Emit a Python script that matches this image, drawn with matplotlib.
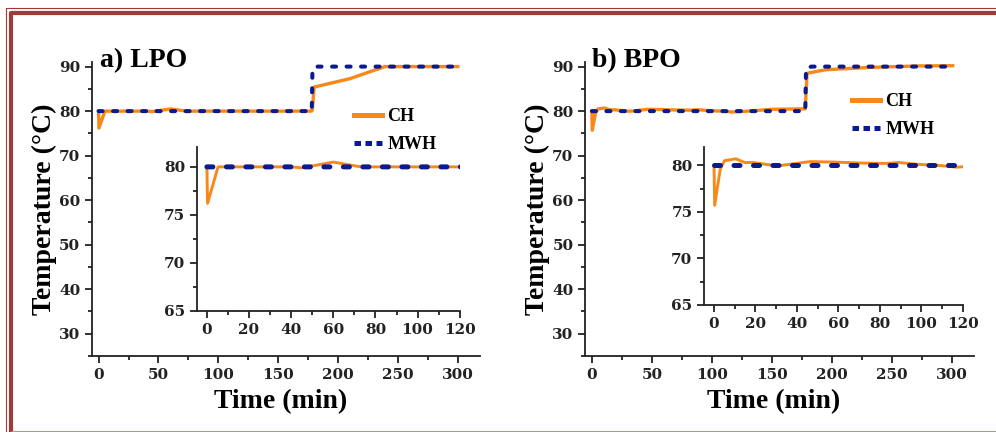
import matplotlib
matplotlib.use('Agg')
import matplotlib.pyplot as plt
from matplotlib.lines import Line2D
from matplotlib.ticker import MultipleLocator

plt.rcParams['font.family'] = ['Liberation Serif', 'DejaVu Serif']
plt.rcParams['font.weight'] = 'bold'
plt.rcParams['axes.labelweight'] = 'bold'

# LPO: conventional heating (CH) and microwave heating (MWH)
lpo_t_ch = [0, 0.3, 5.3, 40, 45, 60, 73, 178, 178.5, 180, 210, 239, 300]
lpo_T_ch = [80, 76.2, 80, 80, 79.9, 80.5, 80, 80, 80.3, 85.4, 87.3, 90, 90]
lpo_t_mwh = [0, 178, 178.6, 183, 300]
lpo_T_mwh = [80, 80, 89.5, 90, 90]

# BPO
bpo_t_ch = [0, 0.3, 3, 5.1, 10.5, 14.8, 19, 28.4, 33, 46.3, 57.5, 70, 83, 89,
            98.6, 108, 117, 130, 150, 172, 178, 179.5, 195, 231, 272, 301]
bpo_T_ch = [80, 75.7, 79.6, 80.5, 80.7, 80.3, 80.3, 80, 80, 80.4, 80.35, 80.25,
            80.2, 80.3, 80.1, 80, 79.8, 80.0, 80.4, 80.5, 80.5, 88.5, 89.3,
            89.8, 90.15, 90.2]
bpo_t_mwh = [0, 178, 178.6, 183, 300]
bpo_T_mwh = [80, 80, 89.6, 90, 90]

CH_COLOR = '#f7891c'
MWH_COLOR = '#0a1a8f'
FRAME_COLOR = '#9e3a3a'
TICK_FONT = dict(family='DejaVu Serif', weight='bold', size=11)

W, H = 996, 432
fig = plt.figure(figsize=(W / 100, H / 100), dpi=100)
fig.patch.set_facecolor('white')


def px_box(left, top, right, bottom):
    return [left / W, 1 - bottom / H, (right - left) / W, (bottom - top) / H]


def style_axes(ax, xmajor, xminor, ymajor, yminor):
    for side in ('top', 'right'):
        ax.spines[side].set_visible(False)
    for side in ('left', 'bottom'):
        ax.spines[side].set_linewidth(1.3)
        ax.spines[side].set_color('#222222')
    ax.xaxis.set_major_locator(MultipleLocator(xmajor))
    ax.xaxis.set_minor_locator(MultipleLocator(xminor))
    ax.yaxis.set_major_locator(MultipleLocator(ymajor))
    ax.yaxis.set_minor_locator(MultipleLocator(yminor))
    ax.tick_params(which='both', direction='out', width=1.3, colors='#222222',
                   top=False, right=False)
    ax.tick_params(which='major', length=5)
    ax.tick_params(which='minor', length=3)
    ax.set_facecolor('none')


def set_tick_font(ax):
    for lab in ax.get_xticklabels() + ax.get_yticklabels():
        lab.set(**TICK_FONT)


panels = [
    dict(tag='a) LPO', t_ch=lpo_t_ch, T_ch=lpo_T_ch, t_mwh=lpo_t_mwh, T_mwh=lpo_T_mwh,
         main=px_box(92, 61.7, 480, 356), inset=px_box(197, 146.7, 459.7, 311),
         inset_ylim=(65, 82.1), tag_xy=(100, 67), legend_xy=(354, 108)),
    dict(tag='b) BPO', t_ch=bpo_t_ch, T_ch=bpo_T_ch, t_mwh=bpo_t_mwh, T_mwh=bpo_T_mwh,
         main=px_box(585.3, 61.7, 973.7, 356), inset=px_box(704.3, 146.7, 962.7, 305),
         inset_ylim=(65, 82.0), tag_xy=(592, 67), legend_xy=(852, 93)),
]

for p in panels:
    ax = fig.add_axes(p['main'])
    ax.plot(p['t_ch'], p['T_ch'], color=CH_COLOR, lw=2.4, solid_joinstyle='round')
    ax.plot(p['t_mwh'], p['T_mwh'], color=MWH_COLOR, lw=2.9,
            dashes=(1.0, 2.6), dash_capstyle='round')
    ax.set_xlim(-5.5, 318.5)
    ax.set_ylim(25, 91.1)
    style_axes(ax, 50, 25, 10, 5)
    ax.set_yticks([30, 40, 50, 60, 70, 80, 90])
    set_tick_font(ax)
    ax.set_xlabel('Time (min)', fontsize=20)
    ax.set_ylabel('Temperature (°C)', fontsize=20)
    ax.xaxis.set_label_coords(0.486, -0.112)
    ax.yaxis.set_label_coords(-0.09, 0.5)

    handles = [Line2D([], [], color=CH_COLOR, lw=3.6),
               Line2D([], [], color=MWH_COLOR, lw=3.6, dashes=(1.3, 0.9))]
    lx, ly = p['legend_xy']
    ax.legend(handles, ['CH', 'MWH'], loc='upper left',
              bbox_to_anchor=(lx / W, 1 - ly / H), bbox_transform=fig.transFigure,
              frameon=False, borderpad=0, borderaxespad=0, handlelength=1.55,
              handletextpad=0.3, labelspacing=0.6,
              prop=dict(family='Liberation Serif', weight='bold', size=13))

    tx, ty = p['tag_xy']
    fig.text(tx / W, 1 - ty / H, p['tag'], fontsize=20, fontweight='bold',
             va='baseline', ha='left')

    ins = fig.add_axes(p['inset'])
    ins.plot(p['t_ch'], p['T_ch'], color=CH_COLOR, lw=2.1, solid_joinstyle='round')
    ins.plot(p['t_mwh'], p['T_mwh'], color=MWH_COLOR, lw=3.6,
             dashes=(1.2, 2.7), dash_capstyle='round')
    ins.set_xlim(-4.7, 120)
    ins.set_ylim(*p['inset_ylim'])
    style_axes(ins, 20, 10, 5, 2.5)
    ins.set_yticks([65, 70, 75, 80])
    set_tick_font(ins)

# page frame
def frame_line(xs, ys, lw, color):
    fig.add_artist(Line2D([x / W for x in xs], [1 - y / H for y in ys],
                          transform=fig.transFigure, lw=lw, color=color,
                          solid_capstyle='butt'))

frame_line([6, 6, 996], [432, 8, 8], 0.8, FRAME_COLOR)
frame_line([11, 11, 996], [432, 13, 13], 3.0, FRAME_COLOR)
frame_line([11, 996], [431, 431], 0.8, '#c98a8a')

fig.savefig('out.png', dpi=100, facecolor='white')
